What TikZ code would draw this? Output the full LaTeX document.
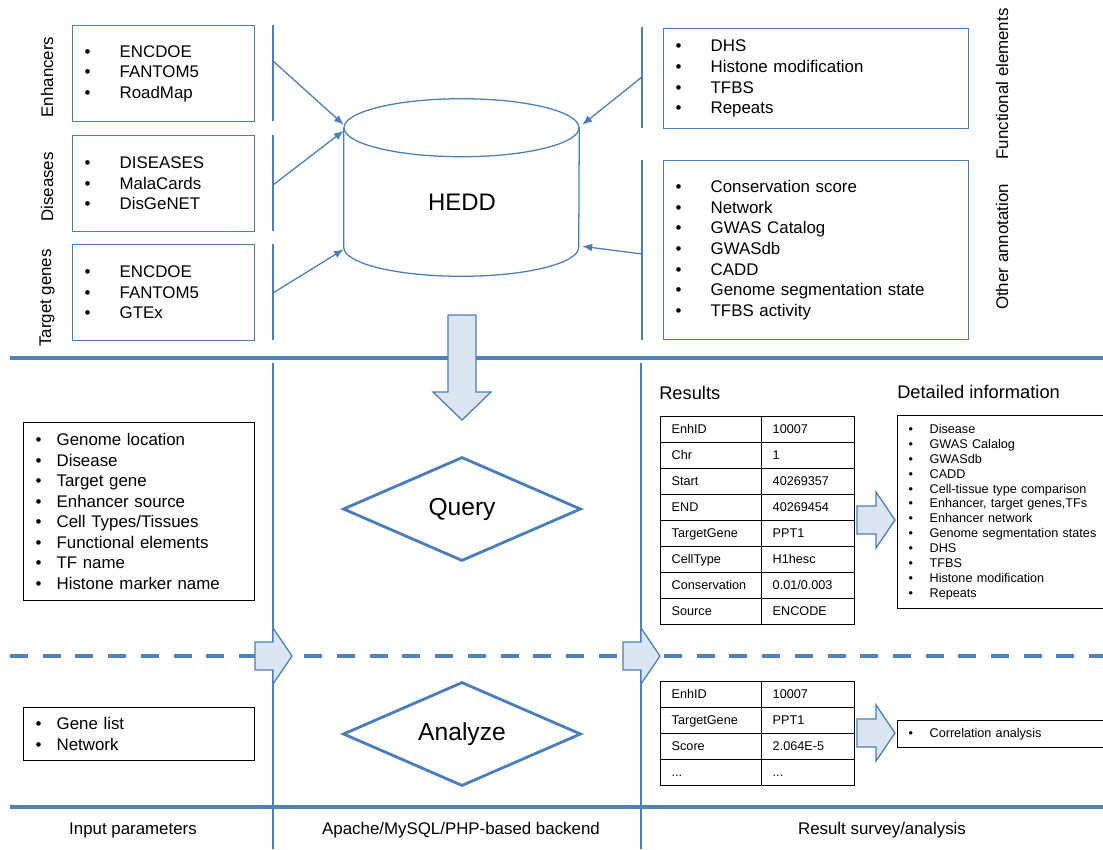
\documentclass[tikz,border=0pt]{standalone}
\usepackage{fontspec}
\setmainfont{Liberation Sans}
\usetikzlibrary{arrows.meta,matrix,shapes.geometric}
\newlength{\px}
\setlength{\px}{0.025cm}
\definecolor{lineblue}{HTML}{4A7EBB}
\definecolor{barblue}{HTML}{4F81BD}
\definecolor{arrowfill}{HTML}{DCE6F2}
\newcommand{\itm}[2][35]{\makebox[#1\px][l]{\textbullet}#2}
\newcommand{\rightblock}[3]{\draw[blockarrow] (#1,#3-14) -- (#2-19,#3-14) -- (#2-19,#3-28) -- (#2,#3) -- (#2-19,#3+28) -- (#2-19,#3+14) -- (#1,#3+14) -- cycle;}
\tikzset{
    divider/.style={lineblue, line width=0.9pt},
    hbar/.style={barblue, line width=3pt},
    dashbar/.style={barblue, line width=3pt, dash pattern=on 18\px off 14.7\px},
    feed/.style={lineblue, line width=0.9pt, -{Latex[length=7pt,width=5.5pt]}},
    blockarrow/.style={draw=lineblue, fill=arrowfill, line width=0.9pt},
    dbline/.style={lineblue, line width=0.9pt},
    srcbox/.style={draw=lineblue, line width=0.9pt, anchor=north west, inner xsep=12\px, inner ysep=0pt, align=left, font=\fontsize{12}{14.6}\selectfont},
    inbox/.style={draw=black, line width=0.9pt, anchor=north west, text width=207\px, inner xsep=12\px, inner ysep=0pt, align=left, font=\fontsize{12}{14.6}\selectfont},
    infobox/.style={draw=black, line width=0.9pt, anchor=north west, text width=210\px, inner xsep=11\px, inner ysep=0pt, align=left, font=\fontsize{9}{10.6}\selectfont},
    sidelabel/.style={rotate=90, font=\fontsize{12}{14}\selectfont},
    steplabel/.style={font=\fontsize{12}{14}\selectfont},
    heading/.style={anchor=west, inner sep=0pt, font=\fontsize{13}{15}\selectfont},
    decision/.style={diamond, draw=lineblue, line width=2pt, minimum width=238\px, minimum height=104\px, inner sep=0pt, aspect=2.29, font=\fontsize{17.5}{20}\selectfont},
    dbbody/.style={minimum width=235\px, minimum height=119\px, inner sep=0pt},
    celltable/.style={matrix of nodes, inner sep=0pt, outer sep=0pt, anchor=north west, row sep=-1pt, column sep=-1pt,
        nodes={draw=black, line width=1pt, outer sep=0pt, inner ysep=0pt, inner xsep=11\px, minimum height=26\px, text height=7pt, text depth=2pt, align=left, font=\fontsize{9}{10.6}\selectfont},
        column 1/.style={nodes={text width=79\px}},
        column 2/.style={nodes={text width=71\px}}}
}

\begin{document}
\begin{tikzpicture}[x=0.025cm, y=-0.025cm]
    \useasboundingbox (0,0) rectangle (1103,849);

    \draw[divider] (273,25) -- (273,121);
    \draw[divider] (273,135) -- (273,231);
    \draw[divider] (273,244) -- (273,340);
    \draw[divider] (642,27) -- (642,128);
    \draw[divider] (642,160) -- (642,340);
    \draw[divider] (273,363) -- (273,849);
    \draw[divider] (641,363) -- (641,849);

    \draw[hbar] (10,358) -- (1103,358);
    \draw[dashbar] (10,656) -- (1103,656);
    \draw[hbar] (10,807) -- (1103,807);

    \node[srcbox, text width=158\px, minimum height=96\px] (enhsrc) at (72,25) {\itm{ENCDOE}\\\itm{FANTOM5}\\\itm{RoadMap}};
    \node[srcbox, text width=158\px, minimum height=96\px] (dissrc) at (72,135) {\itm{DISEASES}\\\itm{MalaCards}\\\itm{DisGeNET}};
    \node[srcbox, text width=158\px, minimum height=96\px] (genesrc) at (72,244) {\itm{ENCDOE}\\\itm{FANTOM5}\\\itm{GTEx}};
    \node[sidelabel] (enhlabel) at (47,77) {Enhancers};
    \node[sidelabel] (dislabel) at (47,187) {Diseases};
    \node[sidelabel] (genelabel) at (47,298) {Target genes};

    \node[srcbox, text width=281\px, minimum height=100\px] (funcsrc) at (663,28) {\itm{DHS}\\\itm{Histone modification}\\\itm{TFBS}\\\itm{Repeats}};
    \node[srcbox, text width=281\px, minimum height=179\px] (annosrc) at (663,160) {\itm{Conservation score}\\\itm{Network}\\\itm{GWAS Catalog}\\\itm{GWASdb}\\\itm{CADD}\\\itm{Genome segmentation state}\\\itm{TFBS activity}};
    \node[sidelabel] (funclabel) at (1002,84) {Functional elements};
    \node[sidelabel] (annolabel) at (1002,247) {Other annotation};

    \node[dbbody] (hedd) at (461.5,187.5) {};
    \draw[dbline] (hedd.north west) -- (hedd.south west) arc[start angle=180, end angle=360, x radius=117.5\px, y radius=29\px] -- (hedd.north east);
    \draw[dbline] (hedd.north) ellipse [x radius=117.5\px, y radius=29\px];
    \node[font=\fontsize{17}{20}\selectfont] (heddname) at (462,202) {HEDD};

    \coordinate (enhout) at (273,61);
    \coordinate (disout) at (273,185);
    \coordinate (geneout) at (273,293);
    \coordinate (funcout) at (642,77);
    \coordinate (annoout) at (642,254);
    \draw[feed] (enhout) -- ([shift={(0,-3)}]hedd.north west);
    \draw[feed] (disout) -- ([shift={(0,3)}]hedd.north west);
    \draw[feed] (geneout) -- ([shift={(0,2)}]hedd.south west);
    \draw[feed] (funcout) -- ([shift={(3,-3)}]hedd.north east);
    \draw[feed] (annoout) -- ([shift={(3,-1)}]hedd.south east);

    \draw[blockarrow] (448,315) -- (476,315) -- (476,392) -- (491,392) -- (462,420) -- (433,392) -- (448,392) -- cycle;

    \node[inbox, minimum height=178\px] (params) at (23,422) {\itm[21]{Genome location}\\\itm[21]{Disease}\\\itm[21]{Target gene}\\\itm[21]{Enhancer source}\\\itm[21]{Cell Types/Tissues}\\\itm[21]{Functional elements}\\\itm[21]{TF name}\\\itm[21]{Histone marker name}};
    \node[inbox, minimum height=53\px] (genes) at (23,707) {\itm[21]{Gene list}\\\itm[21]{Network}};

    \node[decision] (query) at (462,509) {Query};
    \node[decision] (analyze) at (462,734) {Analyze};

    \rightblock{255}{292}{656}
    \rightblock{623}{660}{656}

    \node[heading] (reshead) at (659,393) {Results};
    \node[heading] (detailhead) at (897,392) {Detailed information};

    \matrix[celltable] (restab) at (660,416) {
        EnhID & 10007 \\
        Chr & 1 \\
        Start & 40269357 \\
        END & 40269454 \\
        TargetGene & PPT1 \\
        CellType & H1hesc \\
        Conservation & 0.01/0.003 \\
        Source & ENCODE \\
    };
    \matrix[celltable] (scoretab) at (660,681) {
        EnhID & 10007 \\
        TargetGene & PPT1 \\
        Score & 2.064E-5 \\
        ... & ... \\
    };

    \rightblock{857}{895}{520}
    \rightblock{857}{895}{733}

    \node[infobox, minimum height=193\px] (detail) at (897,415) {\itm[21]{Disease}\\\itm[21]{GWAS Calalog}\\\itm[21]{GWASdb}\\\itm[21]{CADD}\\\itm[21]{Cell-tissue type comparison}\\\itm[21]{Enhancer, target genes,TFs}\\\itm[21]{Enhancer network}\\\itm[21]{Genome segmentation states}\\\itm[21]{DHS}\\\itm[21]{TFBS}\\\itm[21]{Histone modification}\\\itm[21]{Repeats}};
    \node[infobox, minimum height=27\px] (corr) at (897,720) {\itm[21]{Correlation analysis}};

    \node[steplabel] (inlabel) at (133,830) {Input parameters};
    \node[steplabel] (backlabel) at (461,830) {Apache/MySQL/PHP-based backend};
    \node[steplabel] (outlabel) at (882,830) {Result survey/analysis};
\end{tikzpicture}
\end{document}
